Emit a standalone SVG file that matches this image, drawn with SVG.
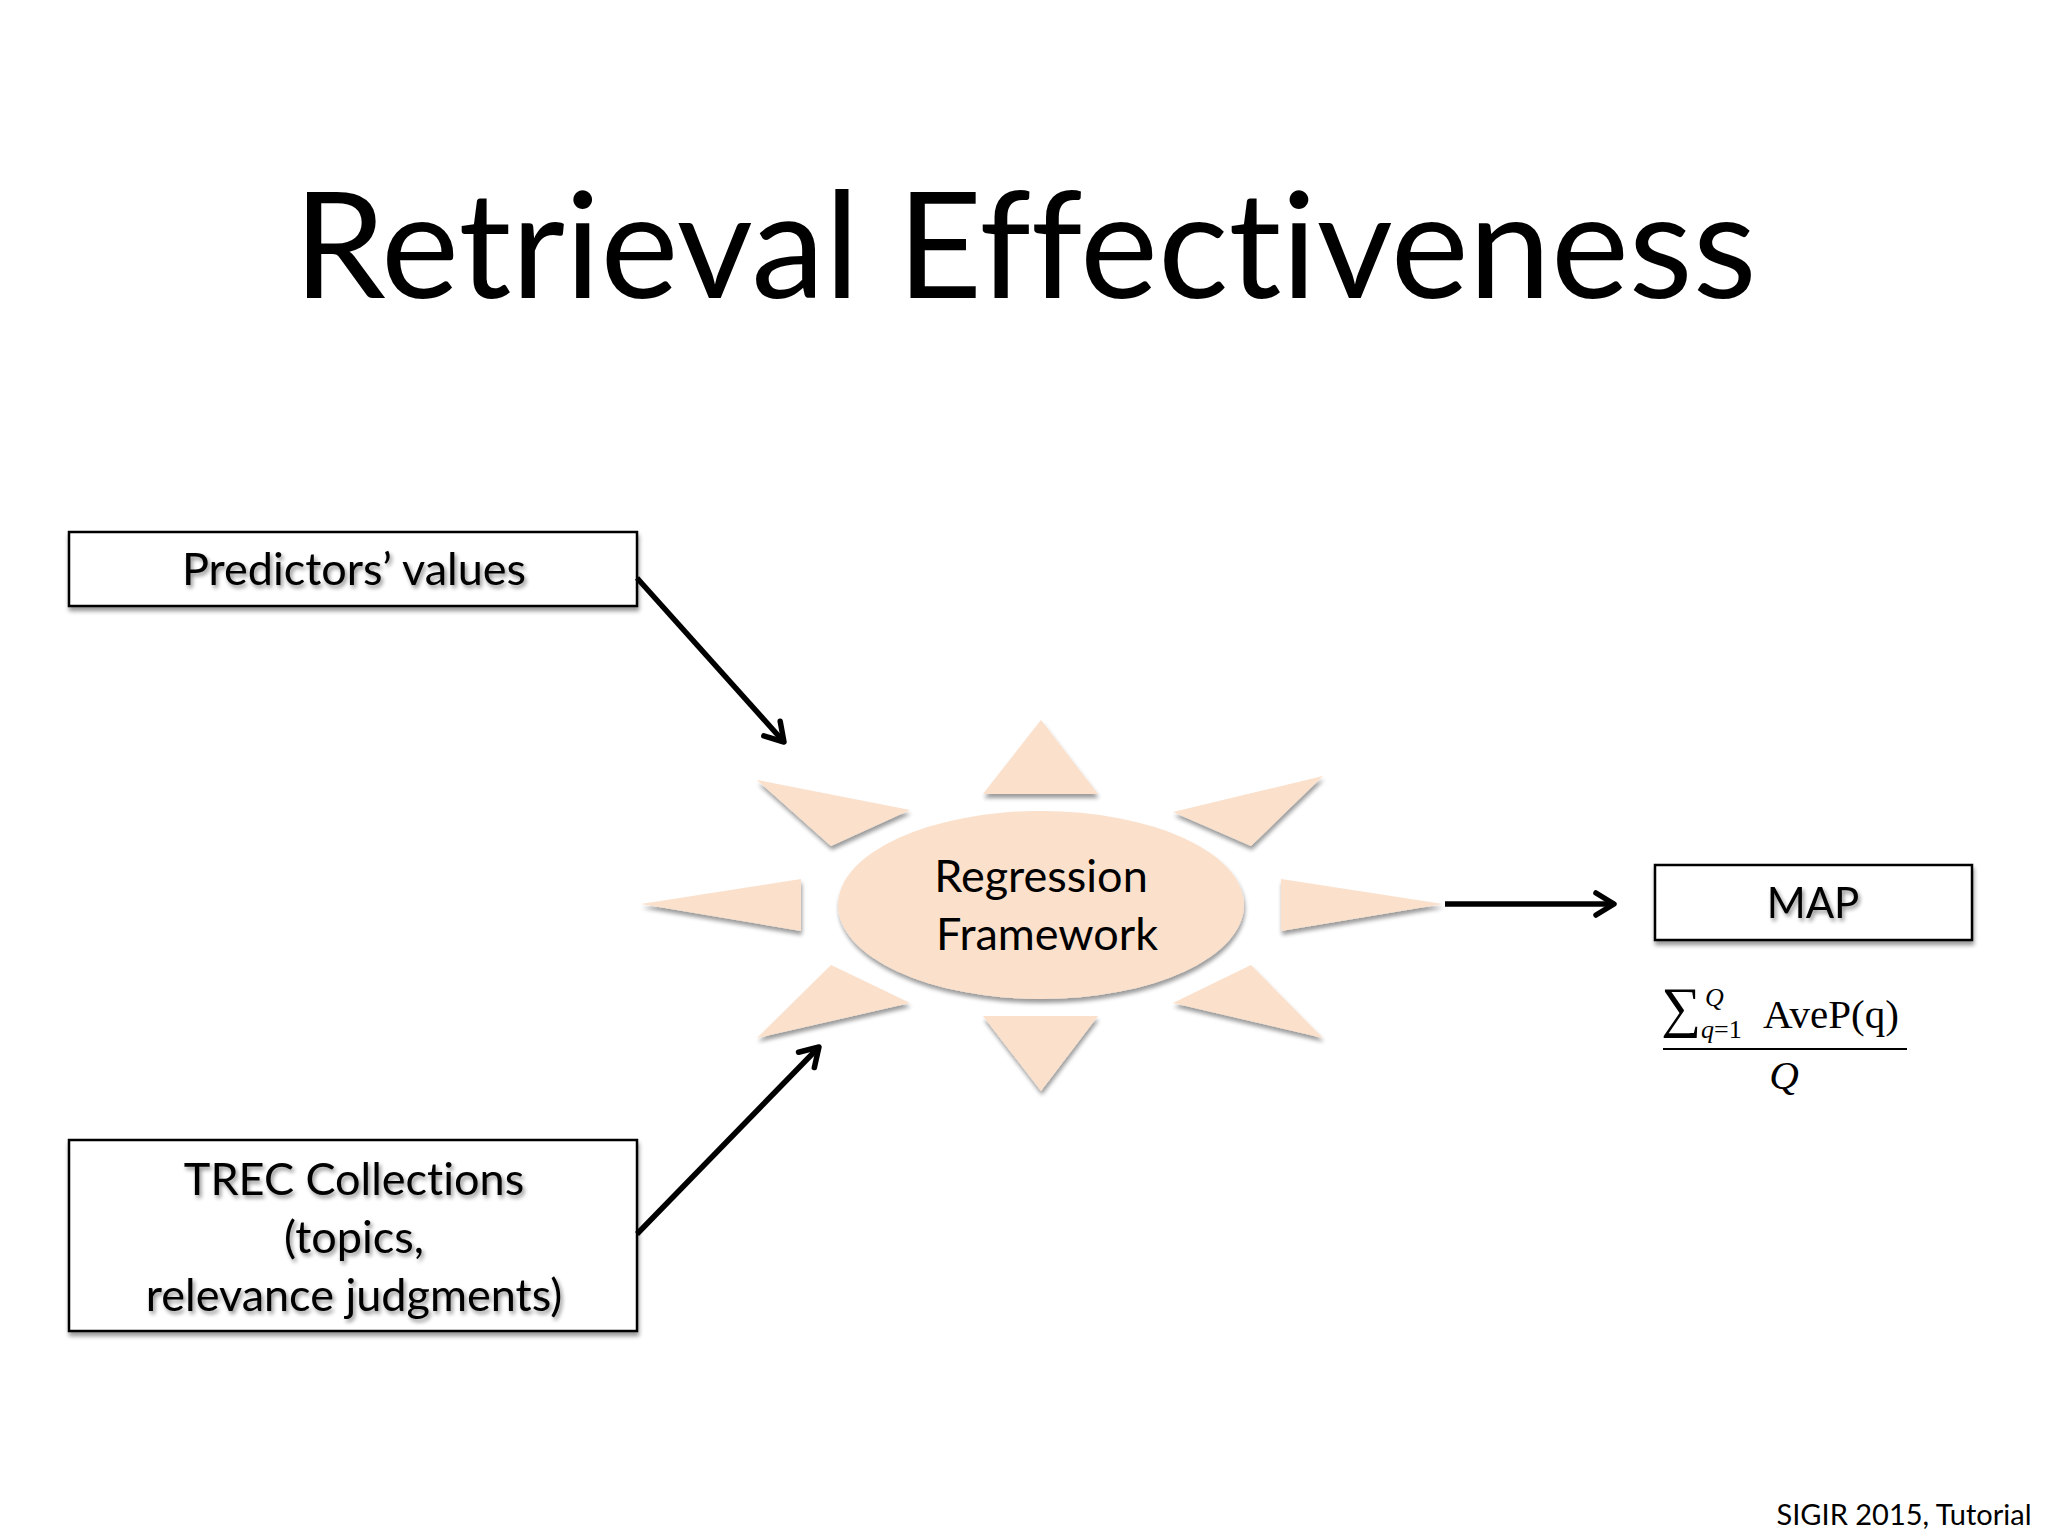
<svg xmlns="http://www.w3.org/2000/svg" width="2048" height="1536" viewBox="0 0 2048 1536">
<defs>
<filter id="tshadow" x="-10%" y="-30%" width="120%" height="160%">
<feGaussianBlur in="SourceAlpha" stdDeviation="2"/>
<feOffset dx="2" dy="3" result="b"/>
<feComponentTransfer in="b" result="c"><feFuncA type="linear" slope="0.45"/></feComponentTransfer>
<feMerge><feMergeNode in="c"/><feMergeNode in="SourceGraphic"/></feMerge>
</filter>
<filter id="shadow" x="-10%" y="-20%" width="120%" height="140%">
<feGaussianBlur in="SourceAlpha" stdDeviation="2"/>
<feOffset dx="1" dy="4" result="b"/>
<feComponentTransfer in="b" result="c"><feFuncA type="linear" slope="0.4"/></feComponentTransfer>
<feMerge><feMergeNode in="c"/><feMergeNode in="SourceGraphic"/></feMerge>
</filter>
<marker id="arr" viewBox="0 0 28 28" refX="23" refY="14" markerWidth="28" markerHeight="28" markerUnits="userSpaceOnUse" orient="auto">
<path d="M5,3 L23,14 L5,25" fill="none" stroke="#000" stroke-width="5.5" stroke-linecap="round" stroke-linejoin="round"/>
</marker>
</defs>
<style>
.lbl{font-family:Lato,"Open Sans","Liberation Sans",sans-serif;fill:#000;text-anchor:middle;font-variant-ligatures:none}
.box{fill:#fff;stroke:#000;stroke-width:2.5}
.ray{fill:#FBE0CB}
.conn{stroke:#000;stroke-width:5.5;fill:none;marker-end:url(#arr)}
.math{font-family:"Liberation Serif","DejaVu Serif",serif;fill:#000}
</style>
<rect width="2048" height="1536" fill="#fff"/>
<text class="lbl" x="1025" y="298" font-size="148" textLength="1463" lengthAdjust="spacingAndGlyphs">Retrieval Effectiveness</text>

<g id="predictors">
<rect class="box" x="69" y="532" width="568" height="74" filter="url(#shadow)"/>
<text class="lbl" x="354" y="585" font-size="45" filter="url(#tshadow)">Predictors’ values</text>
</g>

<g id="trec">
<rect class="box" x="69" y="1140" width="568" height="191" filter="url(#shadow)"/>
<text class="lbl" x="354" y="1195" font-size="45" filter="url(#tshadow)">TREC Collections</text>
<text class="lbl" x="354" y="1253" font-size="45" filter="url(#tshadow)">(topics,</text>
<text class="lbl" x="354" y="1311" font-size="45" filter="url(#tshadow)">relevance judgments)</text>
</g>

<g id="regression" filter="url(#shadow)">
<polygon class="ray" points="1041,720 983,794 1098,794"/>
<polygon class="ray" points="1041,1091 983,1016 1098,1016"/>
<polygon class="ray" points="641,904 801,879 801,931"/>
<polygon class="ray" points="1443,904 1281,879 1281,931"/>
<polygon class="ray" points="757,780 910,810 831,846"/>
<polygon class="ray" points="1323,776 1173,812 1251,846"/>
<polygon class="ray" points="757,1038 910,1003 831,965"/>
<polygon class="ray" points="1323,1038 1173,1003 1251,965"/>
<ellipse class="ray" cx="1041" cy="905" rx="203" ry="94"/>
</g>
<g id="regression-label">
<text class="lbl" x="1041" y="892" font-size="45">Regression</text>
<text class="lbl" x="1047" y="950" font-size="45">Framework</text>
</g>

<g id="map">
<rect class="box" x="1655" y="865" width="317" height="75" filter="url(#shadow)"/>
<text class="lbl" x="1813" y="918" font-size="42" filter="url(#tshadow)">MAP</text>
</g>

<g id="formula">
<text class="math" x="1661" y="1026" font-size="56">∑</text>
<text class="math" x="1705" y="1006" font-size="26" font-style="italic">Q</text>
<text class="math" x="1701" y="1038" font-size="26"><tspan font-style="italic">q</tspan>=1</text>
<text class="math" x="1763" y="1028" font-size="41">AveP(q)</text>
<line x1="1663" y1="1049" x2="1907" y2="1049" stroke="#000" stroke-width="2"/>
<text class="math" x="1784" y="1089" font-size="41" font-style="italic" text-anchor="middle">Q</text>
</g>

<g id="connectors">
<line class="conn" x1="637" y1="578" x2="784" y2="742"/>
<line class="conn" x1="637" y1="1234" x2="819" y2="1047"/>
<line class="conn" x1="1445" y1="904" x2="1614" y2="904"/>
</g>

<text class="lbl" x="1904" y="1525" font-size="29">SIGIR 2015, Tutorial</text>
</svg>
